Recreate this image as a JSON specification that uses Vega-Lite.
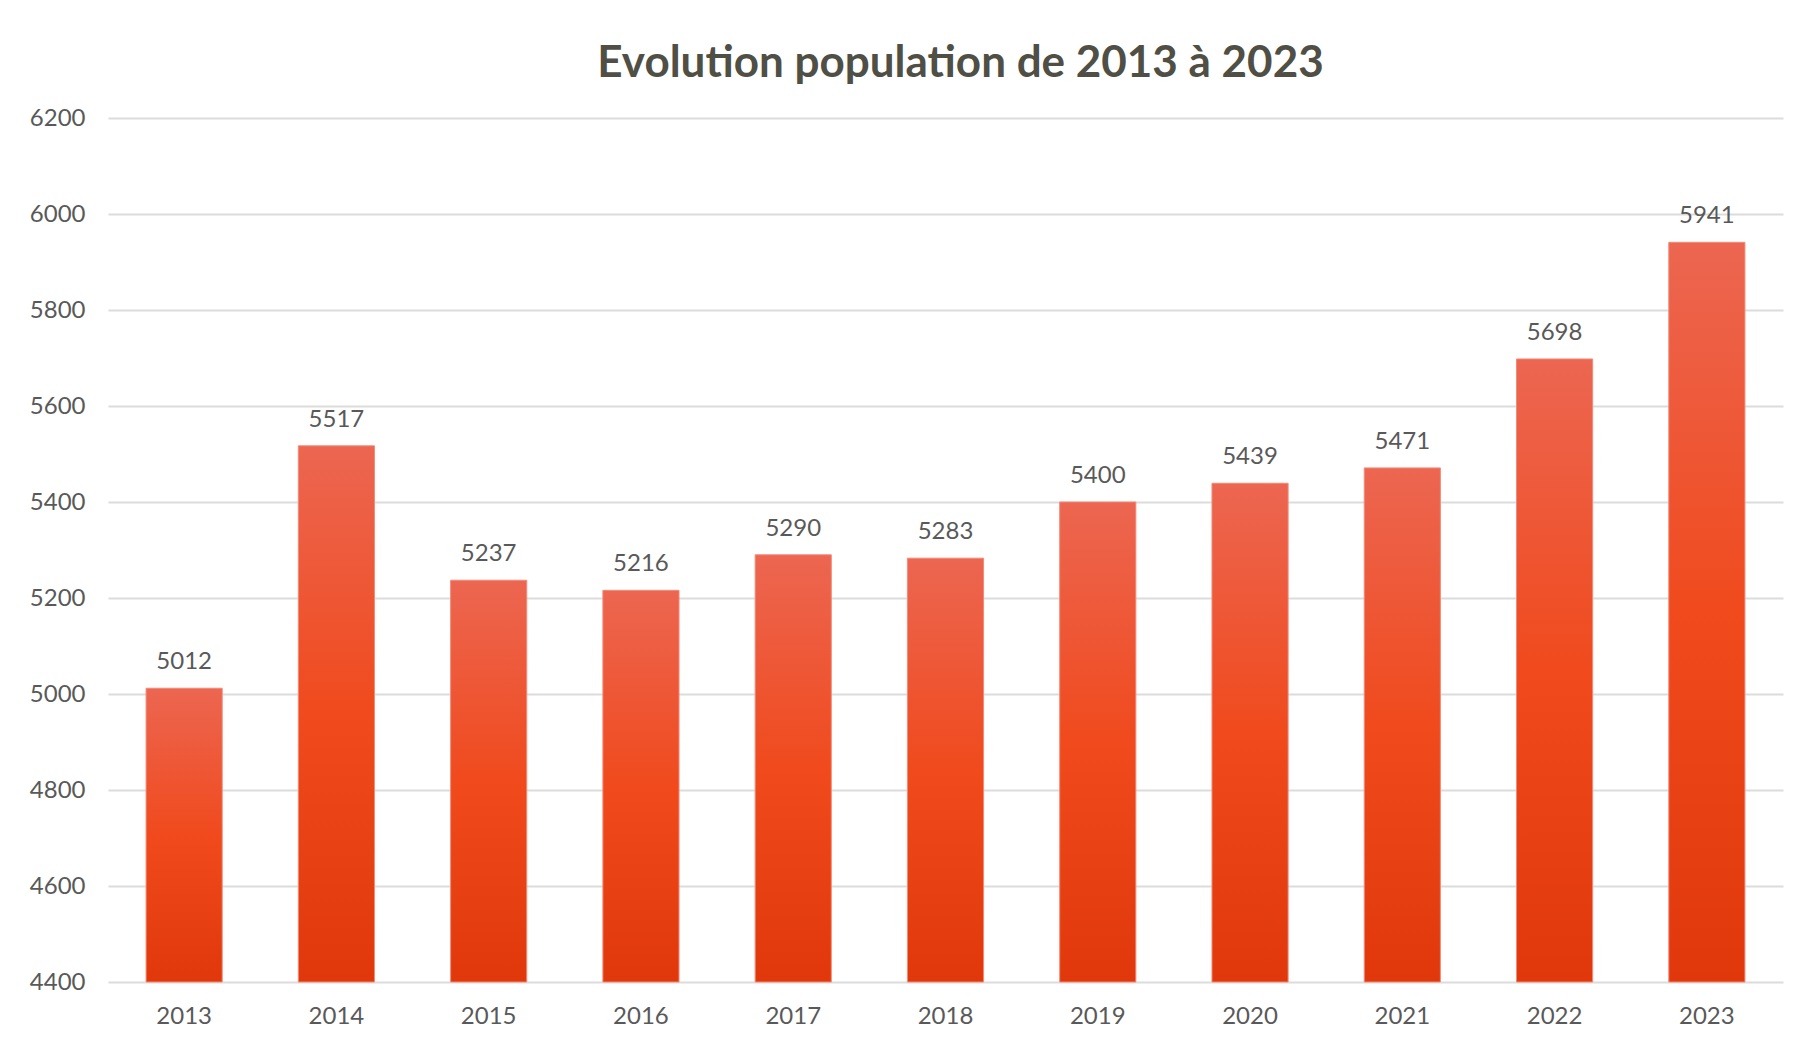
{
  "$schema": "https://vega.github.io/schema/vega-lite/v6.json",
  "width": 1675,
  "height": 864,
  "autosize": {"type": "none"},
  "padding": {"left": 108, "top": 118, "right": 35, "bottom": 66},
  "background": "white",
  "title": {
    "text": "Evolution population de 2013 à 2023",
    "font": "Lato",
    "fontSize": 44,
    "fontWeight": "bold",
    "color": "#4f4f45",
    "anchor": "middle",
    "baseline": "bottom",
    "offset": -24,
    "dx": 15
  },
  "data": {
    "values": [
      {"annee": "2013", "population": 5012},
      {"annee": "2014", "population": 5517},
      {"annee": "2015", "population": 5237},
      {"annee": "2016", "population": 5216},
      {"annee": "2017", "population": 5290},
      {"annee": "2018", "population": 5283},
      {"annee": "2019", "population": 5400},
      {"annee": "2020", "population": 5439},
      {"annee": "2021", "population": 5471},
      {"annee": "2022", "population": 5698},
      {"annee": "2023", "population": 5941}
    ]
  },
  "encoding": {
    "x": {
      "field": "annee",
      "type": "nominal",
      "scale": {"paddingInner": 0.5, "paddingOuter": 0.25},
      "axis": {
        "title": null,
        "labelAngle": 0,
        "domain": false,
        "ticks": false,
        "labelFont": "Lato",
        "labelFontSize": 24,
        "labelColor": "#595959",
        "labelPadding": 22
      }
    },
    "y": {
      "field": "population",
      "type": "quantitative",
      "scale": {"domain": [4400, 6200], "zero": false, "nice": false},
      "axis": {
        "title": null,
        "format": "d",
        "values": [4400, 4600, 4800, 5000, 5200, 5400, 5600, 5800, 6000, 6200],
        "domain": false,
        "ticks": false,
        "grid": true,
        "gridColor": "#dcdcdc",
        "gridWidth": 2,
        "labelFont": "Lato",
        "labelFontSize": 24,
        "labelColor": "#595959",
        "labelPadding": 23
      }
    }
  },
  "layer": [
    {
      "mark": {
        "type": "bar",
        "stroke": "#f28a78",
        "strokeWidth": 1,
        "color": {
          "gradient": "linear",
          "x1": 0, "y1": 0, "x2": 0, "y2": 1,
          "stops": [
            {"offset": 0, "color": "#ec6651"},
            {"offset": 0.5, "color": "#f04a1d"},
            {"offset": 1, "color": "#e0380a"}
          ]
        }
      },
      "encoding": {
        "y2": {"datum": 4400}
      }
    },
    {
      "mark": {
        "type": "text",
        "font": "Lato",
        "fontSize": 24,
        "color": "#595959",
        "baseline": "alphabetic",
        "dy": -19
      },
      "encoding": {
        "text": {"field": "population", "type": "quantitative", "format": "d"}
      }
    }
  ],
  "config": {"view": {"stroke": null}}
}
